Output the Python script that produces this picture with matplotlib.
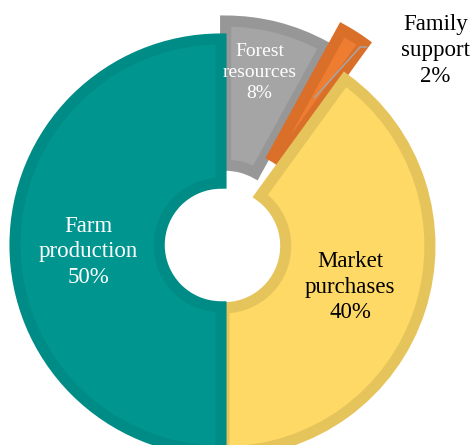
import numpy as np
import matplotlib.pyplot as plt

# slices, clockwise from 12 o'clock
labels = ['Forest\nresources', 'Family\nsupport', 'Market\npurchases', 'Farm\nproduction']
shares = [8, 2, 40, 50]
explode = [0.09, 0.20, 0.015, 0.0]
fill_cols = ['#A5A5A5', '#EE7D31', '#FFD966', '#00968F']
edge_cols = ['#979797', '#DA6F29', '#E6C45C', '#008C86']
text_cols = ['white', 'black', 'black', 'white']

plt.rcParams['font.family'] = ['Liberation Serif', 'DejaVu Serif']

fig = plt.figure(figsize=(4.73, 4.45), dpi=100)
ax = fig.add_axes([0, 0, 1, 1])

R = 1.0
wedges, _ = ax.pie(shares, explode=explode, colors=fill_cols, startangle=90,
                   counterclock=False, radius=R,
                   wedgeprops=dict(width=0.70, linewidth=8))
for w, ec in zip(wedges, edge_cols):
    w.set_edgecolor(ec)
    w.set_clip_path(w)   # keep only the inner half of the stroke

# label radius / angle nudge per slice (degrees, counter-clockwise positive)
lab_r = [0.77, 0.645, 0.645, 0.645]
lab_da = [2, 0, 0, 3]

for i, w in enumerate(wedges):
    mid = np.deg2rad((w.theta1 + w.theta2) / 2 + lab_da[i])
    cx, cy = w.center
    pct = f'{shares[i]}%'
    if i == 1:
        # family support: leader line out to the right
        x0, y0 = cx + lab_r[i] * np.cos(mid), cy + lab_r[i] * np.sin(mid)
        ax.plot([x0, 0.675, 0.71], [y0, 0.961, 0.961], color='#A6A6A6', lw=1.1,
                solid_capstyle='butt')
        ax.text(1.04, 0.945, labels[i] + '\n' + pct, ha='center', va='center',
                fontsize=16.5, color=text_cols[i], linespacing=1.3)
        continue
    fs = 14 if i == 0 else 16.5
    ax.text(cx + lab_r[i] * np.cos(mid), cy + lab_r[i] * np.sin(mid),
            labels[i] + '\n' + pct, ha='center', va='center', fontsize=fs,
            color=text_cols[i], linespacing=1.3)

ax.set_xlim(-221 / 206, (473 - 221) / 206)
ax.set_ylim(-(445 - 245) / 206, 245 / 206)
ax.set_aspect('equal')
ax.axis('off')

fig.savefig('out.png', dpi=100)
